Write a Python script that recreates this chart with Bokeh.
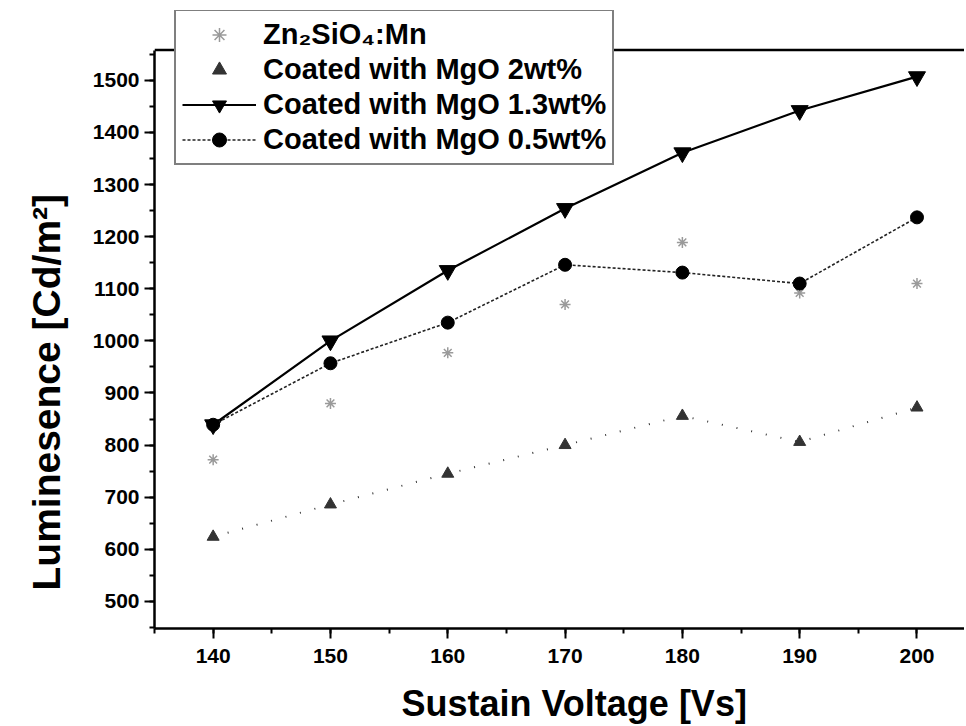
from bokeh.plotting import figure
from bokeh.models import (Range1d, FixedTicker, Legend, LegendItem,
                          ColumnDataSource, Span, Title)
from bokeh.embed import file_html
from bokeh.resources import INLINE

# ---- data ----
voltage = [140, 150, 160, 170, 180, 190, 200]
zn2sio4_mn = [772, 880, 977, 1070, 1189, 1092, 1110]
mgo_2wt = [624, 686, 745, 800, 856, 806, 872]
mgo_13wt = [839, 1000, 1135, 1254, 1361, 1442, 1507]
mgo_05wt = [839, 957, 1035, 1146, 1131, 1110, 1237]

x_ticks = [140, 150, 160, 170, 180, 190, 200]
y_ticks = [500, 600, 700, 800, 900, 1000, 1100, 1200, 1300, 1400, 1500]

FONT = "Liberation Sans"
X_START, X_END = 135, 204.05
Y_START, Y_TOP_SPINE, Y_END = 448, 1558, 1634

p = figure(frame_width=810, frame_height=618,
           x_range=Range1d(X_START, X_END), y_range=Range1d(Y_START, Y_END),
           output_backend="svg", toolbar_location=None,
           min_border_left=154, min_border_top=10, min_border_right=0,
           min_border_bottom=40)
p.outline_line_color = None
p.grid.visible = False
p.background_fill_color = "white"
p.border_fill_color = "white"

for ax in (p.xaxis[0], p.yaxis[0]):
    ax.axis_line_width = 2.5
    ax.axis_line_color = "black"
    ax.major_tick_line_width = 2
    ax.minor_tick_line_width = 2
    ax.major_tick_in = 0
    ax.minor_tick_in = 0
    ax.major_tick_out = 10
    ax.minor_tick_out = 5
    ax.major_label_text_font = FONT
    ax.major_label_text_font_style = "bold"
    ax.major_label_text_font_size = "21px"
    ax.major_label_text_color = "black"

p.xaxis[0].ticker = FixedTicker(ticks=x_ticks, minor_ticks=[135 + 5 * i for i in range(14)])
p.yaxis[0].ticker = FixedTicker(ticks=y_ticks, minor_ticks=[450 + 50 * i for i in range(23)])
p.yaxis[0].bounds = (Y_START, Y_TOP_SPINE)
p.xaxis[0].major_label_standoff = 10
p.yaxis[0].major_label_standoff = 5

ytitle = Title(text="Luminesence [Cd/m²]", align="left", offset=38,
               vertical_align="middle", standoff=42,
               text_font=FONT, text_font_style="bold", text_font_size="39px",
               text_color="black")
p.add_layout(ytitle, "left")

xtitle = Title(text="Sustain Voltage [Vs]", align="left", offset=247,
               vertical_align="middle", standoff=32,
               text_font=FONT, text_font_style="bold", text_font_size="36px",
               text_color="black")
p.add_layout(xtitle, "below")

top_spine = Span(location=Y_TOP_SPINE, dimension="width", line_color="black",
                 line_width=2.5, level="underlay")
p.add_layout(top_spine)

src = ColumnDataSource(dict(x=voltage, zn=zn2sio4_mn, m2=mgo_2wt,
                            m13=mgo_13wt, m05=mgo_05wt))

# Zn2SiO4:Mn (faint grey markers)
r_zn = p.scatter("x", "zn", source=src, marker="asterisk", size=11,
                 line_color="#9a9a9a", line_width=1.5)

# MgO 2wt% (sparse dotted line + small triangles)
p.line("x", "m2", source=src, line_color="#333333", line_width=2,
       line_dash="1 14")
r_m2 = p.scatter("x", "m2", source=src, marker="triangle", size=12,
                 fill_color="#333333", line_color="#333333")

# MgO 1.3wt%
l_13 = p.line("x", "m13", source=src, line_color="black", line_width=2.2)
r_13 = p.scatter("x", "m13", source=src, marker="inverted_triangle", size=17,
                 fill_color="black", line_color="black")

# MgO 0.5wt%
l_05 = p.line("x", "m05", source=src, line_color="#222222", line_width=1.6,
              line_dash="3 2")
r_05 = p.scatter("x", "m05", source=src, marker="circle", size=13,
                 fill_color="black", line_color="black")

legend = Legend(items=[
    LegendItem(label="Zn₂SiO₄:Mn", renderers=[r_zn]),
    LegendItem(label="Coated with MgO 2wt%", renderers=[r_m2]),
    LegendItem(label="Coated with MgO 1.3wt%", renderers=[l_13, r_13]),
    LegendItem(label="Coated with MgO 0.5wt%", renderers=[l_05, r_05]),
], location=(20, 463))
legend.label_text_font = FONT
legend.label_text_font_style = "bold"
legend.label_text_font_size = "29px"
legend.label_text_color = "black"
legend.label_height = 35
legend.glyph_height = 35
legend.glyph_width = 74
legend.label_standoff = 7
legend.spacing = 0
legend.padding = 6
legend.margin = 0
legend.border_line_color = "black"
legend.border_line_width = 2.5
legend.background_fill_color = "white"
legend.background_fill_alpha = 1.0
p.add_layout(legend, "center")

open("out.html", "w").write(file_html(p, INLINE))
